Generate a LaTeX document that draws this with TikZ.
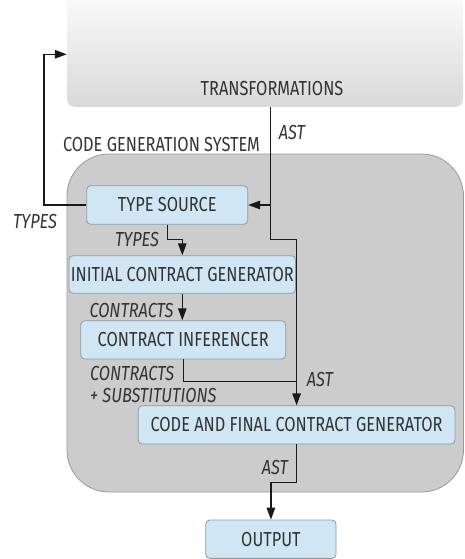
\documentclass[tikz,border=0pt]{standalone}
\usepackage{fontspec}
\setmainfont{Fira Sans}[FakeStretch=0.805]
\usetikzlibrary{arrows.meta}
\definecolor{boxblue}{HTML}{D0E6F4}
\definecolor{boxline}{HTML}{8C9AA4}
\definecolor{sysgray}{HTML}{CCCCCC}
\definecolor{sysline}{HTML}{999999}
\definecolor{txt}{HTML}{333333}
\begin{document}
\begin{tikzpicture}[x=1pt,y=-1pt,
  every node/.style={font=\fontsize{20.3}{23}\selectfont, text=txt, inner sep=0pt},
  stage/.style={draw=boxline, fill=boxblue, line width=0.8pt, rounded corners=4pt},
  lbl/.style={font=\fontsize{20.3}{23}\selectfont\itshape},
  conn/.style={line width=1.3pt, draw=black!90},
  arr/.style={conn, -{Triangle[length=12pt,width=8.5pt]}}]
\useasboundingbox (0,0) rectangle (464,559);
% transformations box
\node[minimum width=396pt, minimum height=127pt, rounded corners=8pt,
      top color=white, bottom color=black!15, shading angle=0] (trans) at (265,43.5) {};
\node (translbl) at (272,88.5) {TRANSFORMATIONS};
% code generation system
\node (cgslbl) at (161.5,144.5) {CODE GENERATION SYSTEM};
\filldraw[fill=sysgray, draw=sysline, line width=0.8pt, rounded corners=42pt]
  (67,154) rectangle (463.5,492);
% stages
\node[stage, minimum width=161pt, minimum height=38.6pt] (ts) at (167.2,205) {TYPE SOURCE};
\node[stage, minimum width=226.5pt, minimum height=37.6pt] (icg) at (182.3,274.5) {INITIAL CONTRACT GENERATOR};
\node[stage, minimum width=205pt, minimum height=38.3pt] (ci) at (183.2,339.9) {CONTRACT INFERENCER};
\node[stage, minimum width=316.7pt, minimum height=38.3pt] (cfcg) at (296.6,424.9) {CODE AND FINAL CONTRACT GENERATOR};
\node[stage, minimum width=130.3pt, minimum height=38.3pt] (out) at (270.9,539.2) {OUTPUT};
% labels
\node[lbl] (l1) at (292,133) {AST};
\node[lbl] (l2) at (35,222) {TYPES};
\node[lbl] (l3) at (137,240) {TYPES};
\node[lbl] (l4) at (131.5,310.5) {CONTRACTS};
\node[lbl, anchor=west] (l5) at (90,373.5) {CONTRACTS};
\node[lbl, anchor=west] (l6) at (90,395.5) {+ SUBSTITUTIONS};
\node[lbl] (l7) at (320,379.5) {AST};
\node[lbl] (l8) at (275,467.5) {AST};
% coordinates
\coordinate (k1) at (44,54.3);
\coordinate (astTop) at (270.7,107);
\coordinate (astJ) at (astTop |- ts.east);
\coordinate (k2) at (cfcg.north |- 0,239.3);
\coordinate (k3) at (icg.north |- 0,239.3);
\coordinate (k4) at (cfcg.north |- 0,381.7);
\coordinate (k5) at (cfcg.south |- 0,482.3);
% connectors
\draw[arr] (ts.west) -| (k1) -- (k1 -| trans.west);
\draw[conn] (astTop) -- (astJ);
\draw[arr] (astJ) -- (ts.east);
\draw[arr] (astJ) |- (k2) -- (cfcg.north);
\draw[arr] (ts.south) |- (k3) -- (icg.north);
\draw[arr] (icg.south) -- (icg.south |- ci.north);
\draw[conn] (ci.south) |- (k4);
\draw[arr] (cfcg.south) -- (k5) -| (out.north);
\end{tikzpicture}
\end{document}
